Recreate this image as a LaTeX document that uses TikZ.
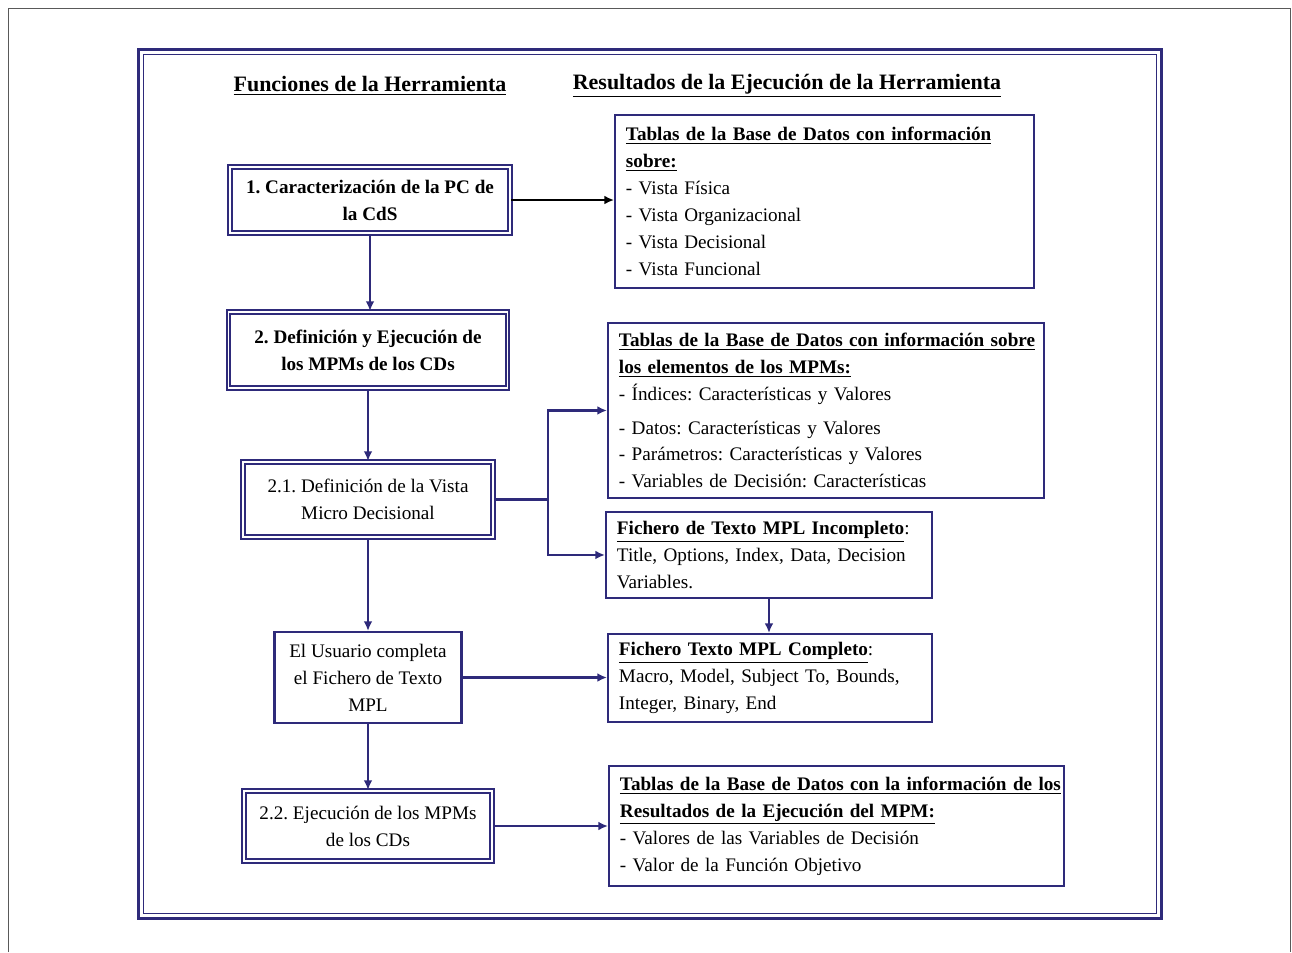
\documentclass[tikz,border=0pt]{standalone}
\usepackage{fontspec}
\setmainfont{Liberation Serif}
\usetikzlibrary{arrows.meta}
\frenchspacing

\definecolor{navy}{RGB}{46,42,122}
\newcommand{\bodyfont}{\fontsize{10.9}{15.3}\selectfont}

\tikzset{
  dblbox/.style={draw=navy, double=white, double distance=0.9pt, line width=1.2pt, align=center, inner sep=0pt, font=\bodyfont},
  onebox/.style={draw=navy, line width=1.2pt, align=center, inner sep=0pt, font=\bodyfont},
  resbox/.style={draw=navy, line width=1.1pt, anchor=north west, align=left, inner xsep=2.2mm, inner ysep=0pt, font=\bodyfont},
  flow/.style={navy, line width=1.5pt, -{Latex[length=5.5pt,width=5pt]}},
  head/.style={font=\fontsize{12.5}{15}\selectfont\bfseries}
}

\begin{document}
\begin{tikzpicture}[x=0.2mm, y=-0.2mm]
\useasboundingbox (0,0) rectangle (1292,952);

\draw[gray!70!black, line width=1pt] (8.5,952) |- (1290.5,8.5) -- (1290.5,952);
\draw[navy, line width=2pt] (138.5,49.5) rectangle (1161.5,918.5);
\draw[navy, line width=1.1pt] (143.5,54.5) rectangle (1156.5,913.5);

\node[head] (hfun) at (370,86) {\underline{Funciones de la Herramienta}};
\node[head] (hres) at (787,86) {\underline{Resultados de la Ejecución de la Herramienta}};

\node[dblbox, minimum width=56mm, minimum height=13.2mm, font=\bodyfont\bfseries] (b1) at (370,200)
  {1. Caracterización de la PC de\\la CdS};
\node[dblbox, minimum width=55.8mm, minimum height=15.2mm, font=\bodyfont\bfseries] (b2) at (368,350)
  {2. Definición y Ejecución de\\los MPMs de los CDs};
\node[dblbox, minimum width=50mm, minimum height=15mm] (b21) at (368,499.5)
  {2.1. Definición de la Vista\\Micro Decisional};
\node[onebox, minimum width=37.4mm, minimum height=18.2mm] (usr) at (368,677.5)
  {El Usuario completa\\el Fichero de Texto\\MPL};
\node[dblbox, minimum width=49.6mm, minimum height=14mm] (b22) at (368,826)
  {2.2. Ejecución de los MPMs\\de los CDs};

\node[resbox, text width=79.4mm, minimum height=34.6mm] (tabA) at (614,114)
  {\underline{\textbf{Tablas de la Base de Datos con información}}\\
   \underline{\textbf{sobre:}}\\
   - Vista Física\\
   - Vista Organizacional\\
   - Vista Decisional\\
   - Vista Funcional};
\node[resbox, text width=82.8mm, minimum height=35mm] (tabB) at (607,322)
  {\underline{\textbf{Tablas de la Base de Datos con información sobre}}\\
   \underline{\textbf{los elementos de los MPMs:}}\\
   - Índices: Características y Valores\\[4pt]
   - Datos: Características y Valores\\
   - Parámetros: Características y Valores\\
   - Variables de Decisión: Características};
\node[resbox, text width=60.8mm, minimum height=17.2mm] (ficInc) at (605,511)
  {\underline{\textbf{Fichero de Texto MPL Incompleto}}:\\
   \makebox[60.8mm][s]{Title, Options, Index, Data, Decision}\\
   Variables.};
\node[resbox, text width=60.4mm, minimum height=17.6mm] (ficCom) at (607,633)
  {\underline{\textbf{Fichero Texto MPL Completo}}:\\
   \makebox[60.4mm][s]{Macro, Model, Subject To, Bounds,}\\
   Integer, Binary, End};
\node[resbox, text width=86.6mm, minimum height=24mm] (tabE) at (608,765)
  {\underline{\textbf{Tablas de la Base de Datos con la información de los}}\\
   \underline{\textbf{Resultados de la Ejecución del MPM:}}\\
   - Valores de las Variables de Decisión\\
   - Valor de la Función Objetivo};

\coordinate (jn) at (548,499.5);

\draw[flow, black, line width=1pt] (b1.east) -- (b1.east -| tabA.west);
\draw[flow] (b1.south) -- (b1.south |- b2.north);
\draw[flow] (b2.south) -- (b2.south |- b21.north);
\draw[navy, line width=1.5pt] (b21.east) -- (jn);
\draw[flow] (jn) |- (tabB.west);
\draw[flow] (jn) |- (ficInc.west);
\draw[flow] (ficInc.south) -- (ficInc.south |- ficCom.north);
\draw[flow] (b21.south) -- (b21.south |- usr.north);
\draw[flow] (usr.east) -- (usr.east -| ficCom.west);
\draw[flow] (usr.south) -- (usr.south |- b22.north);
\draw[flow] (b22.east) -- (b22.east -| tabE.west);
\end{tikzpicture}
\end{document}
